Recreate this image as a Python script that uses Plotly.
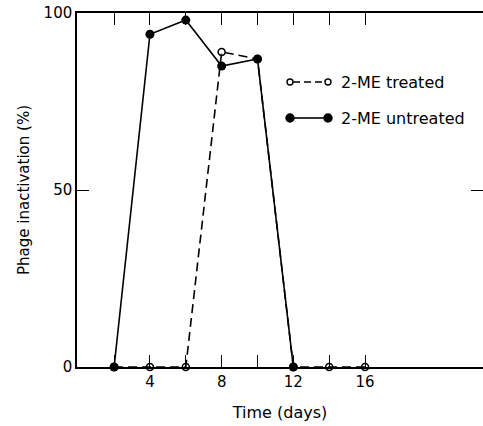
import plotly.graph_objects as go

# Data
days_treated = [2, 4, 6, 8, 10, 12, 14, 16]
inact_treated = [0, 0, 0, 89, 87, 0, 0, 0]
days_untreated = [2, 4, 6, 8, 10, 12]
inact_untreated = [0, 94, 98, 85, 87, 0]

x_tickvals = [2, 4, 6, 8, 10, 12, 14, 16]
x_ticktext = ["", "4", "", "8", "", "12", "", "16"]
y_tickvals = [0, 50, 100]

FONT = "DejaVu Sans, Liberation Sans, sans-serif"
W, H = 483, 426
L, R, T, B = 77, 0, 13, 59

fig = go.Figure()
fig.add_trace(go.Scatter(
    x=days_treated, y=inact_treated, mode="lines+markers", name="2-ME treated",
    line=dict(color="black", width=1.6, dash="9px,5px"),
    marker=dict(symbol="circle-open", size=7, color="black", line=dict(width=1.6)),
    cliponaxis=False, showlegend=False,
))
fig.add_trace(go.Scatter(
    x=days_untreated, y=inact_untreated, mode="lines+markers", name="2-ME untreated",
    line=dict(color="black", width=1.6),
    marker=dict(symbol="circle", size=9, color="black"),
    cliponaxis=False, showlegend=False,
))

# Manual legend (paper coordinates), positions given in page pixels
pw = W - L - R
ph = H - T - B
def px(xp):
    return (xp - L) / pw
def py(yp):
    return (H - B - yp) / ph

shapes = []
annotations = []
rows = [
    (82, "2-ME treated", False),
    (118, "2-ME untreated", True),
]
for yp, label, filled in rows:
    shapes.append(dict(type="line", xref="paper", yref="paper",
                       x0=px(293), x1=px(325), y0=py(yp), y1=py(yp),
                       line=dict(color="black", width=1.6,
                                 dash="solid" if filled else "7px,4px")))
    for xc in (290, 328):
        r = 4 if filled else 3
        shapes.append(dict(type="circle", xref="paper", yref="paper",
                           x0=px(xc - r), x1=px(xc + r), y0=py(yp - r), y1=py(yp + r),
                           fillcolor="black" if filled else "white",
                           line=dict(color="black", width=1.4)))
    annotations.append(dict(xref="paper", yref="paper", x=px(339), y=py(yp),
                            text=label, showarrow=False, xanchor="left", yanchor="middle",
                            font=dict(family=FONT, size=16, color="black")))

fig.update_layout(
    width=W, height=H,
    margin=dict(l=L, r=R, t=T, b=B, autoexpand=False),
    paper_bgcolor="white", plot_bgcolor="white",
    font=dict(family=FONT, size=15, color="black"),
    shapes=shapes, annotations=annotations,
    xaxis=dict(
        range=[-0.07, 22.58], tickvals=x_tickvals, ticktext=x_ticktext,
        ticks="inside", ticklen=12, tickwidth=1.3, tickcolor="black",
        showline=True, linecolor="black", linewidth=1.5, mirror="ticks",
        showgrid=False, zeroline=False,
        tickfont=dict(family=FONT, size=15),
        title=dict(text="Time (days)", font=dict(family=FONT, size=16), standoff=17),
    ),
    yaxis=dict(
        range=[0, 100], tickvals=y_tickvals,
        ticks="inside", ticklen=12, tickwidth=1.3, tickcolor="black",
        showline=True, linecolor="black", linewidth=1.5, mirror="ticks",
        showgrid=False, zeroline=False,
        tickfont=dict(family=FONT, size=15),
        title=dict(text="Phage inactivation (%)", font=dict(family=FONT, size=15), standoff=10),
    ),
)

fig.write_html("out.html", config={"displayModeBar": False},
               post_script="document.body.style.margin='0';")
